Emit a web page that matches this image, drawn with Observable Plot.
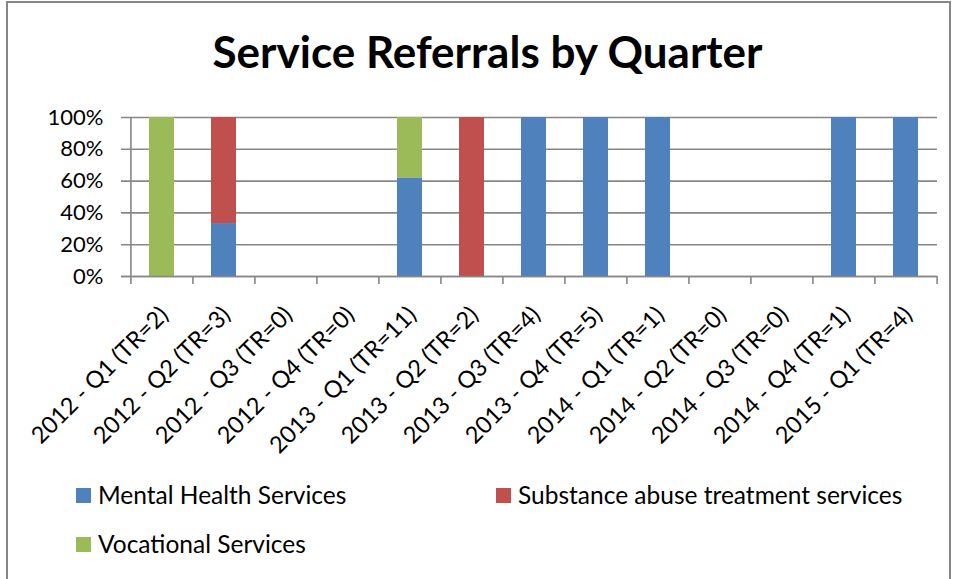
<!DOCTYPE html>
<html><head><meta charset="utf-8">
<script src="https://cdn.jsdelivr.net/npm/d3@7"></script>
<script src="https://cdn.jsdelivr.net/npm/@observablehq/plot@0.6"></script>
<style>
body{margin:0;background:#fff;font-family:Lato,"Open Sans",sans-serif;color:#000;}
#wrap{position:relative;width:957px;height:579px;overflow:hidden;background:#fff;}
#border{position:absolute;left:6px;top:1px;width:945px;height:620px;border:2px solid #878787;box-sizing:border-box;}
#title{position:absolute;left:0;width:975px;top:29px;text-align:center;font-weight:bold;font-size:44px;line-height:44px;white-space:nowrap;}
#chart{position:absolute;left:0;top:0;}
.leg{position:absolute;font-size:24.5px;line-height:24px;height:24px;display:flex;align-items:center;white-space:nowrap;}
.sw{width:15px;height:15px;margin-right:7px;flex:none;}
</style></head>
<body>
<div id="wrap">
  <div id="border"></div>
  <div id="title">Service Referrals by Quarter</div>
  <div id="chart"></div>
  <div id="legend"></div>
</div>
<script>
const categories = ["2012 - Q1 (TR=2)","2012 - Q2 (TR=3)","2012 - Q3 (TR=0)","2012 - Q4 (TR=0)","2013 - Q1 (TR=11)","2013 - Q2 (TR=2)","2013 - Q3 (TR=4)","2013 - Q4 (TR=5)","2014 - Q1 (TR=1)","2014 - Q2 (TR=0)","2014 - Q3 (TR=0)","2014 - Q4 (TR=1)","2015 - Q1 (TR=4)"];
const seriesNames = ["Mental Health Services","Substance abuse treatment services","Vocational Services"];
const mentalHealth = [0, 33.3, 0, 0, 62, 0, 100, 100, 100, 0, 0, 100, 100];
const substanceAbuse = [0, 66.7, 0, 0, 0, 100, 0, 0, 0, 0, 0, 0, 0];
const vocational = [100, 0, 0, 0, 38, 0, 0, 0, 0, 0, 0, 0, 0];
const yTicks = [0, 20, 40, 60, 80, 100];
const colors = ["#4F81BD", "#C0504D", "#9BBB59"];

const seriesValues = [mentalHealth, substanceAbuse, vocational];
const rows = [];
seriesNames.forEach((s, si) => categories.forEach((c, ci) => rows.push({category: c, series: s, value: seriesValues[si][ci]})));

const W = 957, H = 460, ML = 129, MR = 20, MT = 117, MB = 184;
const step = (W - ML - MR) / categories.length;
const gray = "#878787";

const chart = Plot.plot({
  width: W, height: H,
  marginLeft: ML, marginRight: MR, marginTop: MT, marginBottom: MB,
  style: {fontFamily: "Lato, 'Open Sans', sans-serif", color: "#000", background: "transparent"},
  x: {type: "band", domain: categories, paddingInner: 0.6, paddingOuter: 0.3, axis: null},
  y: {domain: [0, 100], axis: null, label: null},
  color: {domain: seriesNames, range: colors},
  marks: [
    Plot.gridY(yTicks, {stroke: gray, strokeOpacity: 1, strokeWidth: 1.6, insetLeft: -8}),
    Plot.ruleX([categories[0]], {y1: 0, y2: 100, dx: -step / 2, stroke: gray, strokeWidth: 1.6}),
    Plot.ruleX(categories, {x: d => d, y1: 0, y2: -5, dx: -step / 2, stroke: gray, strokeWidth: 1.6}),
    Plot.ruleX([categories[categories.length - 1]], {y1: 0, y2: -5, dx: step / 2, stroke: gray, strokeWidth: 1.6}),
    Plot.barY(rows, {x: "category", y: "value", fill: "series", order: seriesNames}),
    Plot.ruleY([0], {stroke: gray, strokeWidth: 1.6, insetLeft: -8}),
    Plot.axisY(yTicks, {tickSize: 0, tickPadding: 26, tickFormat: d => d + "%", fontSize: 22, label: null}),
    Plot.text(categories, {x: d => d, frameAnchor: "bottom", rotate: -45, textAnchor: "end", lineAnchor: "top", dx: -4, dy: 28, fontSize: 23.5, fill: "#000"})
  ]
});
document.getElementById("chart").appendChild(chart);

const legendItems = [
  {name: seriesNames[0], color: colors[0], left: 76, top: 483},
  {name: seriesNames[1], color: colors[1], left: 496, top: 483},
  {name: seriesNames[2], color: colors[2], left: 76, top: 532}
];
const leg = document.getElementById("legend");
legendItems.forEach(it => {
  const d = document.createElement("div");
  d.className = "leg";
  d.style.left = it.left + "px";
  d.style.top = it.top + "px";
  const sw = document.createElement("div");
  sw.className = "sw";
  sw.style.background = it.color;
  const t = document.createElement("span");
  t.textContent = it.name;
  d.appendChild(sw); d.appendChild(t);
  leg.appendChild(d);
});
</script>
</body></html>
